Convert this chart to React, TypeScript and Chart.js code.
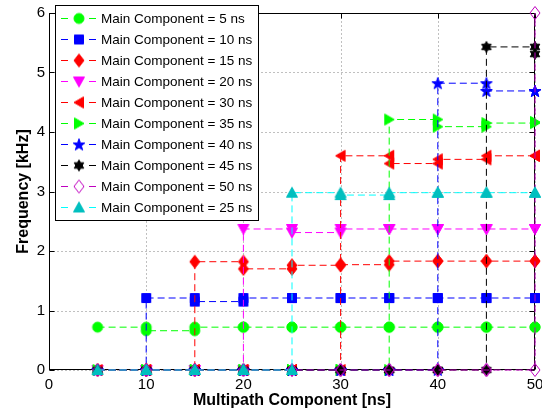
import React, { useEffect, useRef } from "react";
import { Chart, registerables } from "chart.js";

Chart.register(...registerables);

const FONT = "'Liberation Sans', Arial, Helvetica, sans-serif";

// Multipath component delay (ns) on the x axis
const multipathDelays = [5, 10, 15, 20, 25, 30, 35, 40, 45, 50];

// Frequency (kHz) at each multipath delay, one array per main-component delay
const freqMain5 = [0.72, 0.66, 0.72, 0.72, 0.72, 0.72, 0.72, 0.72, 0.72, 0.72];
const freqMain10 = [0, 1.21, 1.15, 1.21, 1.21, 1.21, 1.21, 1.21, 1.21, 1.21];
const freqMain15 = [0, 0, 1.82, 1.7, 1.76, 1.77, 1.83, 1.83, 1.83, 1.83];
const freqMain20 = [0, 0, 0, 2.37, 2.31, 2.37, 2.37, 2.37, 2.37, 2.37];
const freqMain30 = [0, 0, 0, 0, 0, 3.6, 3.47, 3.54, 3.6, 3.6];
const freqMain35 = [0, 0, 0, 0, 0, 0, 4.21, 4.09, 4.15, 4.17];
const freqMain40 = [0, 0, 0, 0, 0, 0, 0, 4.82, 4.69, 4.69];
const freqMain45 = [0, 0, 0, 0, 0, 0, 0, 0, 5.43, 5.31];
const freqMain50 = [0, 0, 0, 0, 0, 0, 0, 0, 0, 6.0];
const freqMain25 = [0, 0, 0, 0, 2.98, 2.94, 2.98, 2.98, 2.98, 2.98];

const seriesLabels = [
  "Main Component = 5 ns",
  "Main Component = 10 ns",
  "Main Component = 15 ns",
  "Main Component = 20 ns",
  "Main Component = 30 ns",
  "Main Component = 35 ns",
  "Main Component = 40 ns",
  "Main Component = 45 ns",
  "Main Component = 50 ns",
  "Main Component = 25 ns",
];
const seriesValues = [
  freqMain5, freqMain10, freqMain15, freqMain20, freqMain30,
  freqMain35, freqMain40, freqMain45, freqMain50, freqMain25,
];

type MarkerKind =
  | "circle" | "square" | "diamond" | "down" | "left"
  | "right" | "pentagram" | "hexagram" | "up";

interface SeriesStyle {
  line: string;
  fill: string | null;
  edge: string;
  marker: MarkerKind;
}

const seriesStyles: SeriesStyle[] = [
  { line: "#00ff00", fill: "#00ff00", edge: "#00ff00", marker: "circle" },
  { line: "#0000ff", fill: "#0000ff", edge: "#0000ff", marker: "square" },
  { line: "#ff0000", fill: "#ff0000", edge: "#ff0000", marker: "diamond" },
  { line: "#ff00ff", fill: "#ff00ff", edge: "#ff00ff", marker: "down" },
  { line: "#ff0000", fill: "#ff0000", edge: "#ff0000", marker: "left" },
  { line: "#00ff00", fill: "#00ff00", edge: "#00ff00", marker: "right" },
  { line: "#0000ff", fill: "#0000ff", edge: "#0000ff", marker: "pentagram" },
  { line: "#000000", fill: "#000000", edge: "#000000", marker: "hexagram" },
  { line: "#bf00bf", fill: null, edge: "#bf00bf", marker: "diamond" },
  { line: "#00ffff", fill: "#00bfbf", edge: "#00bfbf", marker: "up" },
];

function starPath(g: CanvasRenderingContext2D, cx: number, cy: number, n: number, ro: number, ri: number) {
  for (let k = 0; k < n * 2; k++) {
    const r = k % 2 === 0 ? ro : ri;
    const a = -Math.PI / 2 + (k * Math.PI) / n;
    const px = cx + r * Math.cos(a);
    const py = cy + r * Math.sin(a);
    if (k === 0) g.moveTo(px, py);
    else g.lineTo(px, py);
  }
}

function makeMarker(s: SeriesStyle): HTMLCanvasElement {
  const c = document.createElement("canvas");
  c.width = 18;
  c.height = 18;
  const g = c.getContext("2d")!;
  const m = 9;
  g.beginPath();
  switch (s.marker) {
    case "circle":
      g.arc(m, m, 5, 0, Math.PI * 2);
      break;
    case "square":
      g.rect(m - 4.5, m - 4.5, 9, 9);
      break;
    case "diamond":
      g.moveTo(m, m - 6.5);
      g.lineTo(m + 5, m);
      g.lineTo(m, m + 6.5);
      g.lineTo(m - 5, m);
      break;
    case "down":
      g.moveTo(m - 5.5, m - 4.5);
      g.lineTo(m + 5.5, m - 4.5);
      g.lineTo(m, m + 5.5);
      break;
    case "up":
      g.moveTo(m - 5.5, m + 4.5);
      g.lineTo(m + 5.5, m + 4.5);
      g.lineTo(m, m - 5.5);
      break;
    case "left":
      g.moveTo(m - 5, m);
      g.lineTo(m + 4.5, m - 5.5);
      g.lineTo(m + 4.5, m + 5.5);
      break;
    case "right":
      g.moveTo(m + 5, m);
      g.lineTo(m - 4.5, m - 5.5);
      g.lineTo(m - 4.5, m + 5.5);
      break;
    case "pentagram":
      starPath(g, m, m + 0.5, 5, 6.2, 2.5);
      break;
    case "hexagram":
      starPath(g, m, m, 6, 5.5, 3.2);
      break;
  }
  g.closePath();
  if (s.fill) {
    g.fillStyle = s.fill;
    g.fill();
  }
  g.lineWidth = 1;
  g.strokeStyle = s.edge;
  g.stroke();
  return c;
}

// Stair-step path: every vertex carries a marker
function stairPoints(values: number[]) {
  const pts: { x: number; y: number }[] = [];
  values.forEach((v, i) => {
    if (i > 0) pts.push({ x: multipathDelays[i], y: values[i - 1] });
    pts.push({ x: multipathDelays[i], y: v });
  });
  return pts;
}

const axesFrame = {
  id: "axesFrame",
  beforeDatasetsDraw(chart: any) {
    const { ctx, chartArea: a, scales } = chart;
    const xs = scales.x;
    const ys = scales.y;
    const L = Math.round(a.left) + 0.5;
    const R = Math.round(a.right) - 0.5;
    const T = Math.round(a.top) + 0.5;
    const B = Math.round(a.bottom) - 0.5;
    ctx.save();
    ctx.lineWidth = 1;
    ctx.strokeStyle = "#808080";
    ctx.setLineDash([1, 3]);
    xs.ticks.forEach((t: any) => {
      const px = Math.round(xs.getPixelForValue(t.value)) + 0.5;
      ctx.beginPath();
      ctx.moveTo(px, T);
      ctx.lineTo(px, B);
      ctx.stroke();
    });
    ys.ticks.forEach((t: any) => {
      const py = Math.round(ys.getPixelForValue(t.value)) + 0.5;
      ctx.beginPath();
      ctx.moveTo(L, py);
      ctx.lineTo(R, py);
      ctx.stroke();
    });
    ctx.setLineDash([]);
    ctx.strokeStyle = "#000000";
    ctx.strokeRect(L, T, R - L, B - T);
    const tl = 5;
    ctx.beginPath();
    xs.ticks.forEach((t: any) => {
      const px = Math.round(xs.getPixelForValue(t.value)) + 0.5;
      ctx.moveTo(px, B);
      ctx.lineTo(px, B - tl);
      ctx.moveTo(px, T);
      ctx.lineTo(px, T + tl);
    });
    ys.ticks.forEach((t: any) => {
      const py = Math.round(ys.getPixelForValue(t.value)) + 0.5;
      ctx.moveTo(L, py);
      ctx.lineTo(L + tl, py);
      ctx.moveTo(R, py);
      ctx.lineTo(R - tl, py);
    });
    ctx.stroke();
    ctx.restore();
  },
};

function makeLegendPlugin(markers: HTMLCanvasElement[]) {
  return {
    id: "boxLegend",
    afterDraw(chart: any) {
      const { ctx } = chart;
      const x0 = 55.5;
      const y0 = 5.5;
      const w = 203;
      const h = 215;
      ctx.save();
      ctx.fillStyle = "#ffffff";
      ctx.fillRect(x0, y0, w, h);
      ctx.strokeStyle = "#000000";
      ctx.lineWidth = 1;
      ctx.strokeRect(x0, y0, w, h);
      ctx.font = `13.5px ${FONT}`;
      ctx.textBaseline = "middle";
      ctx.textAlign = "left";
      seriesLabels.forEach((label, i) => {
        const cy = 18.5 + i * 21;
        const s = seriesStyles[i];
        ctx.strokeStyle = s.line;
        ctx.lineWidth = 1;
        ctx.beginPath();
        ctx.moveTo(61, cy);
        ctx.lineTo(68, cy);
        ctx.moveTo(89, cy);
        ctx.lineTo(96, cy);
        ctx.stroke();
        const mk = markers[i];
        ctx.drawImage(mk, 79 - mk.width / 2, cy - mk.height / 2);
        ctx.fillStyle = "#000000";
        ctx.fillText(label, 101, cy + 0.5);
      });
      ctx.restore();
    },
  };
}

export default function App() {
  const canvasRef = useRef<HTMLCanvasElement | null>(null);

  useEffect(() => {
    const canvas = canvasRef.current;
    if (!canvas) return;
    const markers = seriesStyles.map(makeMarker);
    const n = seriesValues.length;
    const datasets = seriesValues.map((vals, i) => ({
      label: seriesLabels[i],
      data: stairPoints(vals),
      borderColor: seriesStyles[i].line,
      borderWidth: 1,
      borderDash: [7, 4],
      backgroundColor: seriesStyles[i].line,
      pointStyle: markers[i],
      pointRadius: 6,
      pointHoverRadius: 6,
      fill: false,
      tension: 0,
      clip: false as any,
      order: n - i,
    }));

    const chart = new Chart(canvas, {
      type: "line",
      data: { datasets },
      options: {
        animation: false,
        responsive: false,
        devicePixelRatio: 1,
        events: [],
        layout: { padding: { left: 0, top: 13, right: 2, bottom: 0 } },
        plugins: {
          legend: { display: false },
          tooltip: { enabled: false },
        },
        scales: {
          x: {
            type: "linear",
            min: 0,
            max: 50,
            ticks: {
              stepSize: 10,
              color: "#000000",
              font: { family: FONT, size: 15 },
              padding: 6,
              maxRotation: 0,
            },
            grid: { display: false, drawTicks: false },
            border: { display: false },
            title: {
              display: true,
              text: "Multipath Component [ns]",
              color: "#000000",
              font: { family: FONT, size: 16, weight: "bold" },
              padding: { top: 0, bottom: 5 },
            },
            afterFit(scale: any) {
              scale.height = 45;
              scale.paddingLeft = 0;
              scale.paddingRight = 0;
            },
          },
          y: {
            type: "linear",
            min: 0,
            max: 6,
            ticks: {
              stepSize: 1,
              color: "#000000",
              font: { family: FONT, size: 15 },
              padding: 4,
            },
            grid: { display: false, drawTicks: false },
            border: { display: false },
            title: {
              display: true,
              text: "Frequency [kHz]",
              color: "#000000",
              font: { family: FONT, size: 16, weight: "bold" },
              padding: { top: 14, bottom: 0 },
            },
            afterFit(scale: any) {
              scale.width = 49;
              scale.paddingTop = 0;
              scale.paddingBottom = 0;
            },
          },
        },
      },
      plugins: [axesFrame, makeLegendPlugin(markers)],
    });
    return () => chart.destroy();
  }, []);

  return (
    <div style={{ position: "absolute", left: 0, top: 0, width: 542, height: 415, background: "#ffffff" }}>
      <canvas ref={canvasRef} width={542} height={415} style={{ display: "block" }} />
    </div>
  );
}
